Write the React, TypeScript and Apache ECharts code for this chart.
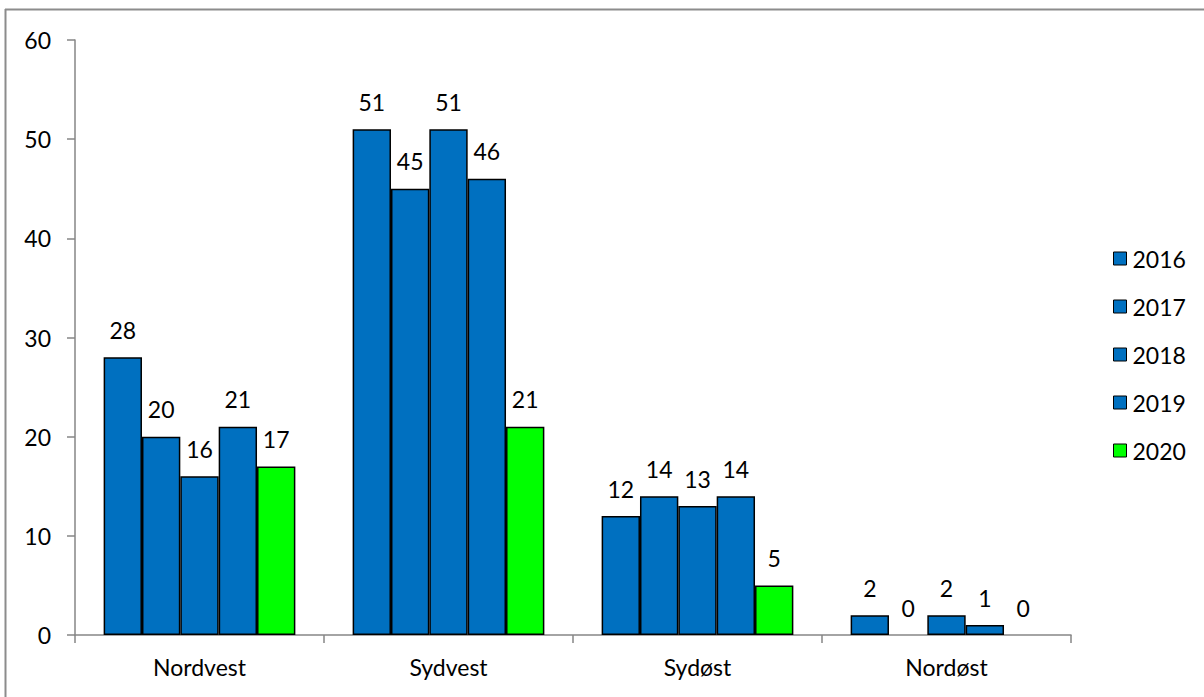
import React, { useEffect, useRef } from "react";
import * as echarts from "echarts";

const categories = ["Nordvest", "Sydvest", "Sydøst", "Nordøst"];
const years = ["2016", "2017", "2018", "2019", "2020"];
const values2016 = [28, 51, 12, 2];
const values2017 = [20, 45, 14, 0];
const values2018 = [16, 51, 13, 2];
const values2019 = [21, 46, 14, 1];
const values2020 = [17, 21, 5, 0];
const yTicks = [0, 10, 20, 30, 40, 50, 60];

const BLUE = "#0070C0";
const GREEN = "#00FF00";
const FONT = "Lato, 'Liberation Sans', sans-serif";
const FS = 23;

export default function App() {
  const ref = useRef<HTMLDivElement>(null);
  useEffect(() => {
    if (!ref.current) return;
    const chart = echarts.init(ref.current, undefined, { renderer: "svg" });
    const allValues = [values2016, values2017, values2018, values2019, values2020];
    const series = years.map((y, i) => ({
      name: y,
      type: "bar",
      data: allValues[i].map((v) =>
        v === 0 ? { value: v, itemStyle: { borderWidth: 0 } } : v
      ),
      barGap: "0%",
      barCategoryGap: "23%",
      itemStyle: {
        color: i === 4 ? GREEN : BLUE,
        borderColor: "#000",
        borderWidth: 1.5,
      },
      label: {
        show: true,
        position: "top",
        distance: 16,
        color: "#000",
        fontSize: FS,
        fontFamily: FONT,
      },
    }));
    chart.setOption({
      animation: false,
      backgroundColor: "#fff",
      textStyle: { fontFamily: FONT },
      graphic: [
        {
          type: "line",
          shape: { x1: 5, y1: 9.5, x2: 1204, y2: 9.5 },
          style: { stroke: "#8c8c8c", lineWidth: 2 },
        },
        {
          type: "line",
          shape: { x1: 5.5, y1: 9, x2: 5.5, y2: 697 },
          style: { stroke: "#8c8c8c", lineWidth: 2 },
        },
      ],
      grid: { left: 75, right: 133, top: 40, bottom: 62, containLabel: false },
      legend: {
        orient: "vertical",
        left: 1113,
        top: 247,
        padding: 0,
        itemWidth: 13,
        itemHeight: 13,
        itemGap: 25,
        icon: "rect",
        data: years.map((y, i) => ({
          name: y,
          itemStyle: { color: i === 4 ? GREEN : BLUE, borderColor: "#000", borderWidth: 1 },
        })),
        textStyle: { fontSize: FS, color: "#000", fontFamily: FONT, lineHeight: 23, padding: [0, 0, 0, 1] },
      },
      xAxis: {
        type: "category",
        data: categories,
        axisLine: { lineStyle: { color: "#868686", width: 1.5 } },
        axisTick: { show: true, length: 8, lineStyle: { color: "#868686", width: 1.5 } },
        axisLabel: { color: "#000", fontSize: FS, fontFamily: FONT, margin: 20 },
      },
      yAxis: {
        type: "value",
        min: 0,
        max: yTicks[yTicks.length - 1],
        interval: 10,
        axisLine: { show: true, lineStyle: { color: "#868686", width: 1.5 } },
        axisTick: { show: true, length: 8, lineStyle: { color: "#868686", width: 1.5 } },
        splitLine: { show: false },
        axisLabel: { color: "#000", fontSize: FS, fontFamily: FONT, margin: 24 },
      },
      series,
    });
    return () => chart.dispose();
  }, []);
  return (
    <div
      ref={ref}
      style={{ position: "absolute", left: 0, top: 0, width: 1204, height: 697 }}
    />
  );
}
